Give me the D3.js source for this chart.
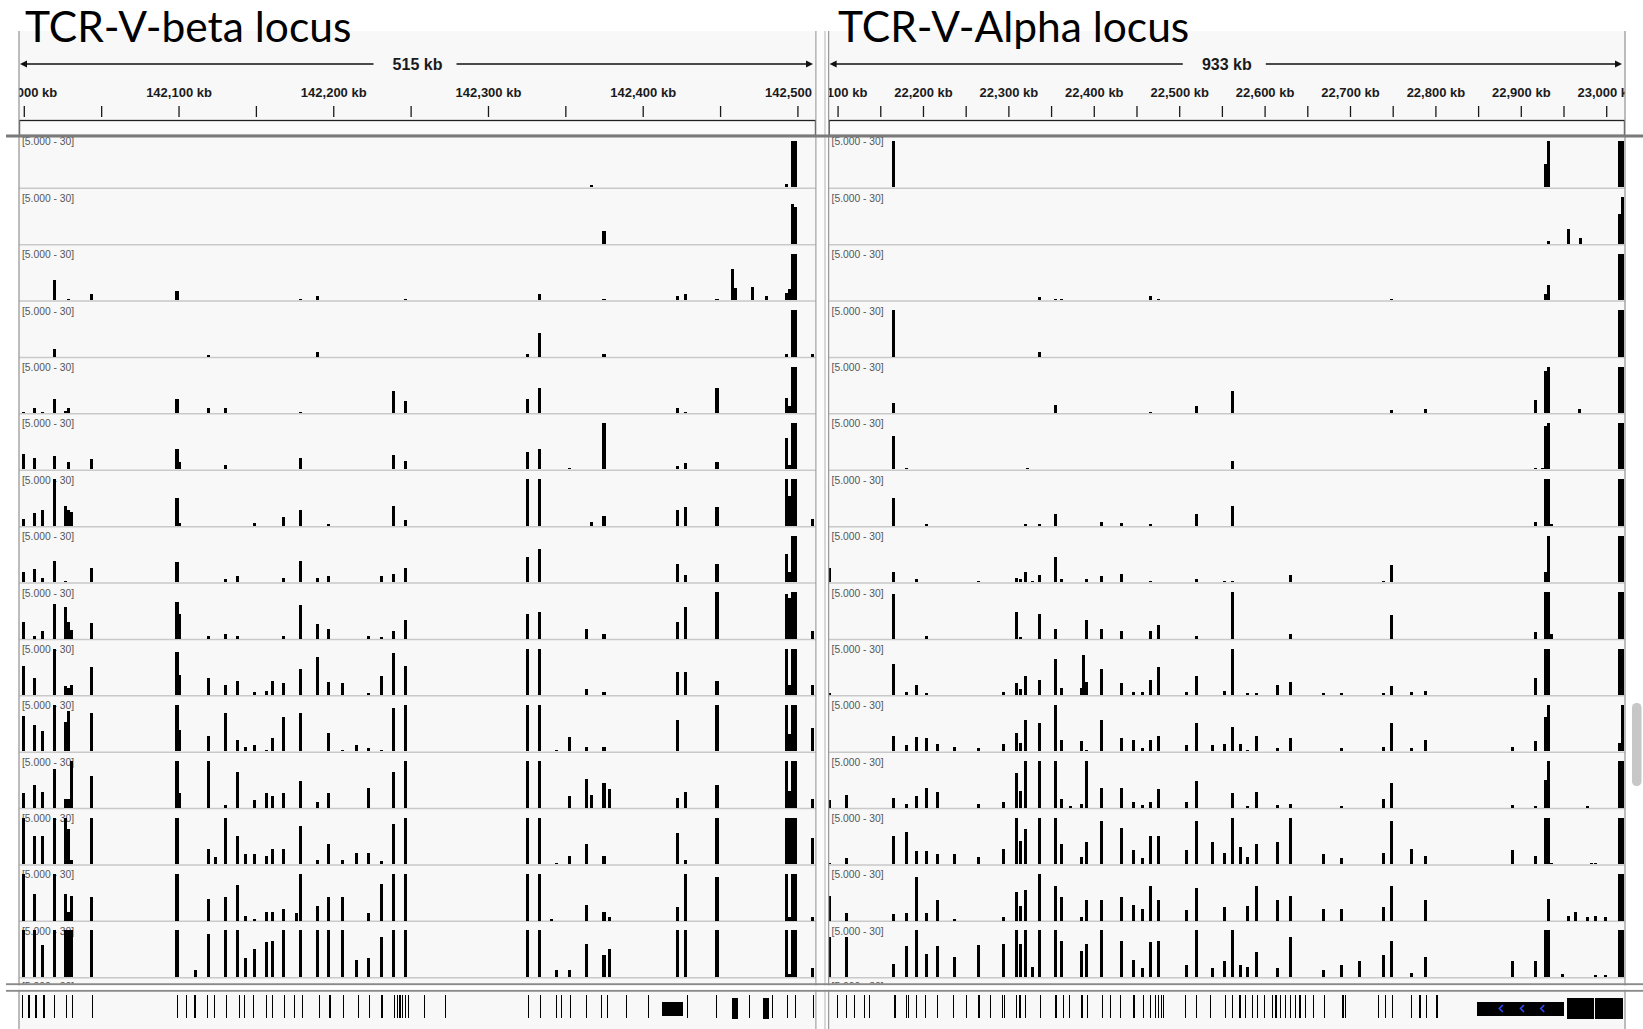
<!DOCTYPE html>
<html lang="en">
<head>
<meta charset="UTF-8">
<title>TCR V loci coverage</title>
<script src="https://d3js.org/d3.v7.min.js"></script>
<style>
  body { margin: 0; background: #fff; }
  svg { display: block; }
  .axis text { font-family: "Liberation Sans", Arial, sans-serif; font-weight: bold; font-size: 13px; fill: #1a1a1a; }
  .axis line { stroke: #1a1a1a; stroke-width: 1.3; }
  .span-label { font-family: "Liberation Sans", Arial, sans-serif; font-weight: bold; font-size: 16px; fill: #1a1a1a; }
  .track-label { font-family: "Liberation Sans", Arial, sans-serif; font-size: 10.3px; fill: #555; }
  .title { font-family: Lato, "Open Sans", sans-serif; font-size: 42.5px; fill: #000; }
  .bar, .gene, .block { shape-rendering: crispEdges; }
</style>
</head>
<body>
<svg width="1643" height="1029"></svg>
<script>
// ---- data -------------------------------------------------------------
const titles = ["TCR-V-beta locus", "TCR-V-Alpha locus"];
const spanLabels = ["515 kb", "933 kb"];
const trackLabel = "[5.000 - 30]";

// visible genomic windows (kb)
const betaDomain = [141996.9, 142512];
const alphaDomain = [22089.5, 23022];

const betaTicks = [142000, 142050, 142100, 142150, 142200, 142250, 142300, 142350, 142400, 142450, 142500];
const betaTickLabels = [142000, 142100, 142200, 142300, 142400, 142500];
const alphaTicks = [22100, 22150, 22200, 22250, 22300, 22350, 22400, 22450, 22500, 22550, 22600,
  22650, 22700, 22750, 22800, 22850, 22900, 22950, 23000];
const alphaTickLabels = [22100, 22200, 22300, 22400, 22500, 22600, 22700, 22800, 22900, 23000];

// coverage per sample track: [position kb, value]
const betaTracks = [
  [[142367,1.8],[142493,2],[142497,30],[142499,30]],
  [[142375,8.4],[142497,26],[142499,24]],
  [[142020,13],[142029,1],[142044,4],[142099,6],[142179,1],[142190,3],[142246.5,1],[142333.5,4],[142375,1],[142422.5,3],[142427.5,4],[142448,1],[142458,20],[142460,8],[142471,8.5],[142480,3],[142493,4.5],[142495,7],[142497,30],[142499,30]],
  [[142020,5],[142119.5,1],[142190,3],[142325.5,2],[142333.5,15],[142375,2],[142493,2],[142497,30],[142499,30],[142509.5,2]],
  [[142000,0.8],[142007,3.5],[142012,1],[142020,9],[142027,1.3],[142029,3],[142099,9],[142119.5,3],[142130.5,3],[142179,1],[142239,14],[142246.5,7.5],[142325.5,9],[142333.5,16],[142422.5,3],[142427.5,1],[142448,16],[142493,10],[142495,4.5],[142497,30],[142499,30]],
  [[142000,10],[142007,7.5],[142020,8.5],[142029,4.5],[142044,6.7],[142099,13],[142100.5,4.5],[142130.5,2.7],[142179,7.5],[142239,9],[142246.5,5.5],[142325.5,11],[142333.5,13],[142352.5,1],[142375,30],[142422.5,2],[142427.5,4],[142448,4.5],[142493,20],[142495,2.7],[142497,30],[142499,30]],
  [[142000,4.5],[142007,8.5],[142012,10],[142020,30],[142027,13],[142029,10],[142031,9],[142099,18],[142100.5,2],[142149,2],[142168,5.5],[142179,10],[142197,1],[142239,13],[142246.5,4],[142325.5,30],[142333.5,30],[142367,2.7],[142375,6.5],[142422.5,10],[142427.5,12],[142448,12],[142493,30],[142495,19],[142497,30],[142499,30],[142509.5,4.7]],
  [[142000,6.5],[142007,8.5],[142012,2.7],[142020,14],[142027,1],[142044,9.3],[142099,13],[142130.5,2],[142138,4],[142168,2.7],[142179,14],[142190,2.7],[142197,4],[142231,4],[142239,5.5],[142246.5,9.3],[142325.5,16],[142333.5,21.5],[142422.5,12],[142427.5,4.7],[142448,12],[142493,18],[142495,6.7],[142497,30],[142499,30]],
  [[142000,11],[142007,2],[142012,4.7],[142020,22.5],[142027,20.7],[142029,11],[142031,5.5],[142044,10],[142099,23.5],[142100.5,16],[142119.5,2],[142130.5,2.7],[142138,2],[142168,2],[142179,21.5],[142190,9.3],[142197,6.5],[142223,2],[142231,1],[142239,4.7],[142246.5,12],[142325.5,16],[142333.5,17],[142363.5,6.5],[142375,2.7],[142422.5,11],[142427.5,20.7],[142448,30],[142493,29],[142495,26],[142497,30],[142499,30],[142509.5,4.7]],
  [[142000,18.7],[142007,11],[142020,30],[142027,5.5],[142029,4.7],[142031,6.5],[142044,18],[142099,28],[142100.5,13],[142119.5,11],[142130.5,6.5],[142138,9.3],[142149,2],[142157,2.7],[142161,9.3],[142168,7.5],[142179,17],[142190,24.5],[142197,8.5],[142206,7.5],[142223,1],[142231,12],[142239,27],[142246.5,18.7],[142325.5,30],[142333.5,30],[142363.5,4],[142375,2],[142422.5,15],[142427.5,15],[142448,9.3],[142493,30],[142495,6.7],[142497,30],[142499,30],[142509.5,6.5]],
  [[142000,23],[142007,17],[142012,13],[142020,30],[142027,18.7],[142029,26],[142044,24.5],[142099,30],[142100.5,14],[142119.5,10],[142130.5,24.5],[142138,7.5],[142143,2.7],[142149,4],[142157,1],[142161,8.5],[142168,22.5],[142179,24.5],[142197,12],[142206,1],[142215,4],[142223,2],[142231,1],[142239,28],[142246.5,30],[142325.5,30],[142333.5,30],[142344.5,1],[142352.5,9.3],[142363.5,2.7],[142375,2.7],[142422.5,20],[142448,30],[142493,30],[142495,11],[142497,30],[142499,30],[142509.5,15]],
  [[142000,9.3],[142007,15],[142012,10],[142020,25],[142027,5.5],[142029,5.5],[142031,30],[142044,20.7],[142099,30],[142100.5,9.3],[142119.5,30],[142130.5,2],[142138,23],[142149,4.7],[142157,9.3],[142161,7.5],[142168,9.3],[142179,17],[142190,4],[142197,9.3],[142223,13],[142239,23],[142246.5,30],[142325.5,30],[142333.5,30],[142352.5,7.5],[142363.5,18.7],[142367,8.5],[142375,16],[142378.5,12],[142422.5,6.5],[142427.5,10],[142448,15],[142493,30],[142495,11],[142497,30],[142499,30],[142509.5,5.5]],
  [[142000,30],[142007,18],[142012,18],[142020,30],[142027,30],[142029,23],[142031,2.7],[142044,30],[142099,30],[142119.5,10],[142124,4.7],[142130.5,30],[142138,18],[142143,6.5],[142149,6.5],[142157,5.5],[142161,10],[142168,10],[142179,24.5],[142190,2.7],[142197,13],[142206,2.7],[142215,7.5],[142223,7.5],[142231,2],[142239,26],[142246.5,30],[142325.5,30],[142333.5,30],[142344.5,1],[142352.5,5.5],[142363.5,13],[142375,5.5],[142422.5,20],[142427.5,2.7],[142448,30],[142493,30],[142495,30],[142497,30],[142499,30],[142509.5,17]],
  [[142000,30],[142007,17],[142020,30],[142027,17],[142029,5.5],[142031,16],[142044,15],[142099,30],[142119.5,14],[142130.5,15],[142138,23],[142143,2.7],[142149,1],[142157,5.5],[142161,5.5],[142168,7.5],[142176,4.7],[142179,30],[142190,9.3],[142197,15],[142206,15],[142223,4.7],[142231,23.5],[142239,30],[142246.5,30],[142325.5,30],[142333.5,30],[142341,1],[142363.5,10],[142375,5.5],[142378.5,2],[142422.5,8.5],[142427.5,30],[142448,28],[142493,30],[142495,2],[142497,30],[142499,30],[142509.5,2]],
  [[142000,30],[142007,30],[142012,20.7],[142020,30],[142027,30],[142029,30],[142031,30],[142044,30],[142099,30],[142111,4.7],[142119.5,28],[142130.5,30],[142138,30],[142143,12],[142149,18],[142157,22.5],[142161,23.5],[142168,30],[142179,30],[142190,30],[142197,30],[142206,30],[142215,11],[142223,12],[142231,26],[142239,30],[142246.5,30],[142325.5,30],[142333.5,30],[142344.5,4.7],[142352.5,4.7],[142363.5,21.5],[142375,14],[142378.5,18],[142422.5,30],[142427.5,30],[142448,30],[142493,30],[142495,2],[142497,30],[142499,30],[142509.5,5.5]]
];

const alphaTracks = [
  [[22166,30],[22929,15],[22932.5,30],[23015,30],[23018.5,30]],
  [[22932.5,2],[22956,9.3],[22970,4],[23015,19],[23018.5,30]],
  [[22336.5,2],[22355,1],[22362.5,1],[22466,2.7],[22476,1],[22749,1],[22929,4],[22932.5,10],[23015,30],[23018.5,30]],
  [[22166,30],[22336.5,2.7],[23015,30],[23018.5,30]],
  [[22166,6.5],[22355,5.5],[22466,1],[22520.5,4.7],[22563,14],[22749,2],[22788.5,2.7],[22917,8.5],[22929,27],[22932.5,30],[22968.3,2.7],[23015,30],[23018.5,30]],
  [[22166,21.5],[22181,1],[22322.5,1],[22563,5.5],[22917,1],[22925.7,1],[22929,28],[22932.5,30],[23015,30],[23018.5,30]],
  [[22166,18],[22204,1],[22320,1],[22336.5,1],[22355,7.5],[22408.5,2.7],[22432.5,2],[22466,1],[22520.5,7.5],[22563,13],[22917,2.7],[22929,30],[22932.5,30],[22936.4,1],[23015,30],[23018.5,30]],
  [[22090,9.3],[22166,6.5],[22192,2],[22265,1],[22309,2.7],[22314,2],[22320,6.5],[22328.7,1],[22336.5,4.7],[22355,16],[22362.5,2],[22392,2],[22408.5,4],[22432.5,5.5],[22466,1],[22520.5,2],[22553.5,1],[22563,1],[22630.5,4.7],[22739,1],[22749,11],[22929,6.5],[22932.5,30],[23015,30],[23018.5,30]],
  [[22166,29],[22204,2],[22309,17],[22314,1],[22336.5,16],[22355,6.5],[22392,12],[22408.5,6.5],[22432.5,4.7],[22466,4.7],[22476,8.5],[22520.5,2],[22563,30],[22630.5,2.7],[22749,15],[22917,4],[22929,30],[22932.5,30],[22936.4,2.7],[23015,30],[23018.5,30]],
  [[22090,1],[22166,20],[22181,2],[22192,6.5],[22204,1],[22294.5,2],[22309,7.5],[22314,4],[22320,12],[22336.5,10],[22355,23.5],[22362.5,4.7],[22386,4.7],[22388,26],[22392,8.5],[22408.5,17],[22432.5,7.5],[22446,2],[22457.5,2],[22466,10],[22476,18],[22509,2],[22520.5,12],[22553.5,2.7],[22563,30],[22579.5,1],[22591,1],[22615.5,6.5],[22630.5,8.5],[22669.5,1],[22690,1],[22739,1],[22749,5.5],[22772,2],[22788.5,2.7],[22917,11],[22929,30],[22932.5,30],[23015,30],[23018.5,30]],
  [[22166,10],[22181,4],[22192,9.3],[22204,8.5],[22217,4.7],[22237,2.7],[22265,2],[22294.5,4.7],[22309,12],[22314,5.5],[22320,20],[22336.5,18],[22355,30],[22362.5,7.5],[22386,6.5],[22392,1],[22408.5,20],[22432.5,8.5],[22446,7.5],[22457.5,2],[22466,7.5],[22476,10],[22509,4],[22520.5,18],[22538.5,4],[22553.5,4.7],[22563,16],[22572,4.7],[22579.5,1],[22591,10],[22615.5,2],[22630.5,8.5],[22690,2],[22739,2.7],[22749,18],[22772,2],[22788.5,7.5],[22890,2.7],[22917,6.5],[22929,22.5],[22932.5,30],[23015,5.5],[23018.5,30]],
  [[22090,4.7],[22110.5,8.5],[22166,6.5],[22181,2.7],[22192,7.5],[22204,13],[22217,10],[22265,2.7],[22294.5,4],[22309,22.5],[22314,11],[22320,30],[22336.5,30],[22355,30],[22362.5,5.5],[22372.5,1],[22386,2.7],[22392,30],[22408.5,13],[22432.5,13],[22446,4],[22457.5,2],[22466,4],[22476,12],[22509,4],[22520.5,17],[22563,9.3],[22579.5,1],[22591,10],[22615.5,2],[22630.5,2.7],[22690,1],[22739,5.5],[22749,16],[22890,2],[22917,1],[22929,18],[22932.5,30],[22978.5,1],[23015,30],[23018.5,30]],
  [[22090,1],[22110.5,4],[22166,18],[22181,20.7],[22192,8.5],[22204,8.5],[22217,6.5],[22237,6.5],[22265,4.7],[22294.5,10],[22309,30],[22314,15],[22320,23],[22336.5,30],[22355,30],[22362.5,13],[22386,4.7],[22392,14],[22408.5,28],[22432.5,23.5],[22446,9.3],[22457.5,4],[22466,18],[22476,18],[22509,9.3],[22520.5,28],[22538.5,14],[22553.5,7.5],[22563,30],[22572,11],[22579.5,4.7],[22591,13],[22615.5,14],[22630.5,30],[22669.5,6.5],[22690,4],[22739,7.5],[22749,28],[22772,10],[22788.5,5.5],[22890,9.3],[22917,5.5],[22929,30],[22932.5,30],[22936.4,1],[22982.7,1],[22988,1],[23015,30],[23018.5,30]],
  [[22090,16],[22110.5,4.7],[22166,4],[22181,4.7],[22192,28],[22204,4.7],[22217,13],[22237,1],[22294.5,2],[22309,18.7],[22314,9.3],[22320,20],[22336.5,30],[22355,22.5],[22362.5,15],[22386,2],[22392,13],[22408.5,13],[22432.5,15],[22446,10],[22457.5,7.5],[22466,22.5],[22476,13],[22509,6.5],[22520.5,20.7],[22553.5,8.5],[22579.5,9.3],[22591,22.5],[22615.5,13],[22630.5,16],[22669.5,7.5],[22690,7.5],[22739,8.5],[22749,22.5],[22788.5,13],[22932.5,14],[22956,2.7],[22963.5,5.5],[22978.5,2],[22988,2.7],[22999,2],[23015,30],[23018.5,30]],
  [[22090,26],[22110.5,26],[22166,8.5],[22181,20],[22192,30],[22204,15],[22217,20],[22237,13],[22265,20.7],[22294.5,21.5],[22309,30],[22314,21.5],[22320,30],[22328.7,6.5],[22336.5,30],[22355,30],[22362.5,23.5],[22386,17],[22392,21.5],[22408.5,30],[22432.5,23.5],[22446,11],[22457.5,5.5],[22466,22.5],[22476,23.5],[22509,7.5],[22520.5,30],[22538.5,5.5],[22553.5,10],[22563,30],[22572,7.5],[22579.5,6.5],[22591,16],[22615.5,5.5],[22630.5,26],[22669.5,4.7],[22690,7.5],[22711,10],[22739,14],[22749,23.5],[22772,2.7],[22788.5,13],[22890,10],[22917,10],[22929,30],[22932.5,30],[22949,2],[22988,1],[22999,1],[23015,30],[23018.5,30]]
];

// gene annotation track: single exons (kb) and larger blocks [start, end]
const betaGenes = [141999, 142003.4, 142007.9, 142013, 142019.9, 142027.8, 142031.5, 142044.5, 142099.3, 142105.1,
  142110.6, 142118.8, 142123, 142131.2, 142139.4, 142142.8, 142148.3, 142156.9, 142160.9, 142168.5, 142175,
  142180.1, 142191.1, 142197.9, 142206.5, 142216.1, 142223.3, 142231.5, 142239.7, 142241.4, 142243.2,
  142244.8, 142246.6, 142248.6, 142258.9, 142272.3, 142326, 142333.9, 142344.2, 142347.5, 142353.4,
  142363.7, 142373.6, 142377.4, 142389.7, 142403.8, 142428.7, 142447.5, 142469.2, 142483.8, 142493.8,
  142499, 142510.2];
const betaBlocks = [[142412.6, 142426.3], [142457.8, 142461.6], [142477.7, 142481.8]];
const alphaGenes = [22100, 22110, 22119.4, 22131.8, 22137.4, 22167.3, 22180.4, 22182.8, 22192.2, 22203.3,
  22217, 22235.7, 22250.6, 22265.6, 22279.3, 22292.9, 22295.4, 22309.2, 22313.5, 22320.3, 22337.2, 22355.8,
  22364.6, 22371.4, 22386.2, 22392.5, 22409.9, 22419.2, 22431.7, 22447.2, 22458.5, 22466.5, 22472.2,
  22475.9, 22479, 22481.5, 22507.6, 22520.6, 22536.8, 22554.2, 22562.3, 22571.1, 22577.9, 22585.4,
  22591.6, 22599.7, 22609, 22613.4, 22618.3, 22624.6, 22630.1, 22636.3, 22641.4, 22647.6, 22657.5,
  22670, 22691.7, 22694.9, 22733.4, 22741.6, 22749.7, 22772.1, 22782, 22789.5, 22801.9];
const alphaBlocks = [[22848.5, 22950], [22953.7, 22985.4], [22987.3, 23019.7]];
const alphaStrand = [22876.6, 22901.4, 22925.1];

// ---- layout -------------------------------------------------------------
const W = 1643, H = 1029;
const panelTop = 31;
const trackTop0 = 131.9, trackH = 56.39;
const barMax = 46.5;

const panels = [
  { title: titles[0], titleX: 25, span: spanLabels[0], domain: betaDomain, range: [19, 816],
    ticks: betaTicks, tickLabels: betaTickLabels, tracks: betaTracks,
    genes: betaGenes, blocks: betaBlocks, strand: [], bin: 2 },
  { title: titles[1], titleX: 838, span: spanLabels[1], domain: alphaDomain, range: [828.6, 1625],
    ticks: alphaTicks, tickLabels: alphaTickLabels, tracks: alphaTracks,
    genes: alphaGenes, blocks: alphaBlocks, strand: alphaStrand, bin: 3.5 }
];

const svg = d3.select("svg");
svg.append("rect").attr("width", W).attr("height", H).attr("fill", "#fff");

const hScale = d3.scaleLinear().domain([0, 30]).range([0, barMax]).clamp(true);
const fmt = d3.format(",");

panels.forEach((p, pi) => {
  const x = d3.scaleLinear().domain(p.domain).range(p.range);
  const [r0, r1] = p.range;
  const clipId = "clip" + pi;

  svg.append("clipPath").attr("id", clipId)
    .append("rect").attr("x", r0).attr("y", panelTop).attr("width", r1 - r0).attr("height", H - panelTop);

  const g = svg.append("g").attr("clip-path", "url(#" + clipId + ")");

  g.append("rect").attr("x", r0).attr("y", panelTop).attr("width", r1 - r0).attr("height", H - panelTop)
    .attr("fill", "#f8f8f8");

  // ruler with span
  const mid = (r0 + r1) / 2, ry = 64;
  g.append("line").attr("x1", r0 + 4).attr("x2", mid - 44).attr("y1", ry).attr("y2", ry)
    .attr("stroke", "#111").attr("stroke-width", 1.4);
  g.append("line").attr("x1", mid + 39).attr("x2", r1 - 5).attr("y1", ry).attr("y2", ry)
    .attr("stroke", "#111").attr("stroke-width", 1.4);
  g.append("path").attr("d", `M${r0 + 1},${ry} L${r0 + 8},${ry - 3.5} L${r0 + 8},${ry + 3.5} Z`).attr("fill", "#111");
  g.append("path").attr("d", `M${r1 - 3},${ry} L${r1 - 10},${ry - 3.5} L${r1 - 10},${ry + 3.5} Z`).attr("fill", "#111");
  g.append("text").attr("class", "span-label").attr("x", mid).attr("y", ry + 6)
    .attr("text-anchor", "middle").text(p.span);

  // coordinate axis (edge labels are cut by the panel, as in IGV)
  const axis = d3.axisTop(x)
    .tickValues(p.ticks)
    .tickSizeInner(-11).tickSizeOuter(0).tickPadding(9.5)
    .tickFormat(d => p.tickLabels.includes(d) ? fmt(d) + " kb" : "");
  g.append("g").attr("class", "axis").attr("transform", "translate(0,106)").call(axis)
    .call(a => a.select(".domain").remove());

  // ruler box
  g.append("rect").attr("x", r0 + 0.5).attr("y", 120.5).attr("width", r1 - r0 - 1).attr("height", 15)
    .attr("fill", "#fbfbfb").attr("stroke", "#222").attr("stroke-width", 1.3);

  // sample tracks
  p.tracks.forEach((track, i) => {
    const top = trackTop0 + trackH * i;
    const base = top + trackH;
    g.append("line").attr("x1", r0).attr("x2", r1).attr("y1", base).attr("y2", base)
      .attr("stroke", "#c9c9c9").attr("stroke-width", 1.5);
    g.append("text").attr("class", "track-label").attr("x", r0 + 3).attr("y", top + 13.5).text(trackLabel);
    g.selectAll(null).data(track).join("rect")
      .attr("class", "bar")
      .attr("x", d => x(d[0] - p.bin / 2))
      .attr("width", d => x(d[0] + p.bin / 2) - x(d[0] - p.bin / 2))
      .attr("y", d => base - 0.8 - hScale(d[1]))
      .attr("height", d => hScale(d[1]))
      .attr("fill", "#000");
  });

  // next (hidden) track label peeking above the divider
  const tailClip = "tail" + pi;
  svg.append("clipPath").attr("id", tailClip)
    .append("rect").attr("x", r0).attr("y", 975).attr("width", r1 - r0).attr("height", 9);
  svg.append("text").attr("class", "track-label").attr("clip-path", "url(#" + tailClip + ")")
    .attr("x", r0 + 3).attr("y", 990).text(trackLabel);

  // gene track
  g.selectAll(null).data(p.genes).join("line")
    .attr("class", "gene")
    .attr("x1", d => x(d)).attr("x2", d => x(d))
    .attr("y1", 995).attr("y2", 1018)
    .attr("stroke", "#000").attr("stroke-width", 1.2);
  g.selectAll(null).data(p.blocks).join("rect")
    .attr("class", "block")
    .attr("x", d => x(d[0])).attr("width", d => x(d[1]) - x(d[0]))
    .attr("y", (d, i) => i === 0 ? 1001.5 : 998).attr("height", (d, i) => i === 0 ? 14 : 20.5)
    .attr("fill", "#000");
  g.selectAll(null).data(p.strand).join("path")
    .attr("d", d => `M${x(d) + 2},${1005} L${x(d) - 1.5},${1008.5} L${x(d) + 2},${1012}`)
    .attr("fill", "none").attr("stroke", "#2a4cff").attr("stroke-width", 1.6);

  // panel borders
  [r0, r1].forEach(bx => {
    svg.append("line").attr("x1", bx).attr("x2", bx).attr("y1", panelTop).attr("y2", H)
      .attr("stroke", "#9a9a9a").attr("stroke-width", 1.3);
  });
});

// gap between panels
svg.append("rect").attr("x", 816.7).attr("y", panelTop).attr("width", 11.2).attr("height", H - panelTop)
  .attr("fill", "#fcfcfc");
svg.append("line").attr("x1", 825).attr("x2", 825).attr("y1", panelTop).attr("y2", H)
  .attr("stroke", "#b5b5b5").attr("stroke-width", 1);

// horizontal dividers across the whole view
[[136, 3, "#7a7a7a"], [984.3, 2, "#8a8a8a"], [990.8, 2, "#8a8a8a"]].forEach(([y, w, c]) => {
  svg.append("line").attr("x1", 6).attr("x2", W).attr("y1", y).attr("y2", y)
    .attr("stroke", c).attr("stroke-width", w);
});
svg.append("rect").attr("x", 6).attr("y", 985.5).attr("width", W - 6).attr("height", 4.2).attr("fill", "#fff");

// scrollbar
svg.append("rect").attr("x", 1632).attr("y", 703).attr("width", 9.5).attr("height", 83).attr("rx", 4.5)
  .attr("fill", "#c7c7c7");

// titles
svg.selectAll(null).data(panels).join("text")
  .attr("class", "title")
  .attr("x", d => d.titleX)
  .attr("y", 42)
  .text(d => d.title);
</script>
</body>
</html>
